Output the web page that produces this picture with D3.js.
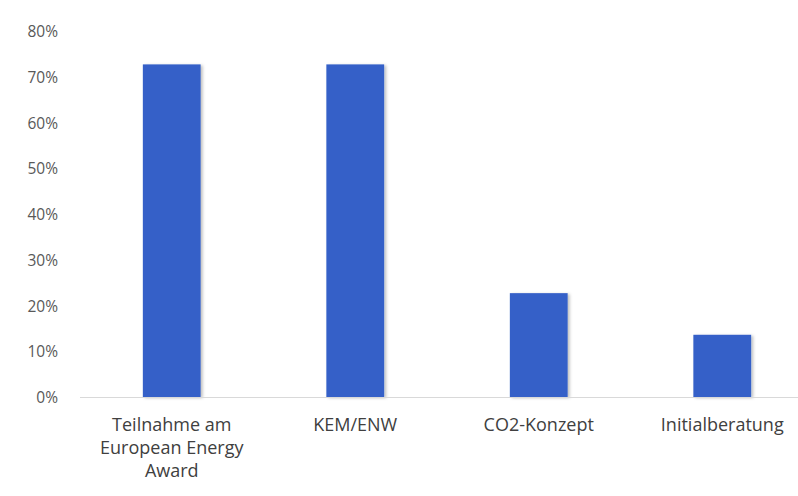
<!DOCTYPE html>
<html>
<head>
<meta charset="utf-8">
<script src="https://cdn.jsdelivr.net/npm/d3@7"></script>
<style>
  html, body { margin: 0; padding: 0; background: #fff; }
  svg { display: block; }
  text { font-family: "Open Sans", "Noto Sans", sans-serif; }
</style>
</head>
<body>
<svg id="chart" width="798" height="496"></svg>
<script>
// Measures taken by municipalities (share of respondents)
const categories = ["Teilnahme am European Energy Award", "KEM/ENW", "CO2-Konzept", "Initialberatung"];
const labelLines = [["Teilnahme am", "European Energy", "Award"], ["KEM/ENW"], ["CO2-Konzept"], ["Initialberatung"]];
const shares = [0.727, 0.727, 0.227, 0.136];
const yTicks = [0, 0.1, 0.2, 0.3, 0.4, 0.5, 0.6, 0.7, 0.8];

const svg = d3.select("#chart");
const W = 798, H = 496;
const plot = { left: 80, right: 814, top: 31, bottom: 397 };

const x = d3.scaleBand()
  .domain(categories)
  .range([plot.left, plot.right])
  .paddingInner(0.685)
  .paddingOuter(0.3425);

const y = d3.scaleLinear()
  .domain([0, 0.8])
  .range([plot.bottom, plot.top]);

// soft shadow on the bars
const defs = svg.append("defs");
const f = defs.append("filter").attr("id", "shadow")
  .attr("x", "-20%").attr("y", "-10%").attr("width", "150%").attr("height", "130%");
f.append("feDropShadow").attr("dx", 2).attr("dy", 1).attr("stdDeviation", 1.5)
  .attr("flood-color", "#000").attr("flood-opacity", 0.25);

// y axis labels (no line, no ticks)
const yAxis = d3.axisLeft(y).tickValues(yTicks).tickFormat(d3.format(".0%")).tickSize(0).tickPadding(0);
const gy = svg.append("g").attr("transform", "translate(58,0)").call(yAxis);
gy.select(".domain").remove();
gy.selectAll("text").attr("fill", "#595959").style("font-size", "15.5px").attr("dy", "0.36em");

// bars
svg.append("g").selectAll("rect")
  .data(categories)
  .join("rect")
  .attr("x", d => x(d))
  .attr("y", (d, i) => y(shares[i]))
  .attr("width", x.bandwidth())
  .attr("height", (d, i) => y(0) - y(shares[i]))
  .attr("fill", "#3561c8")
  .attr("filter", "url(#shadow)");

// baseline
svg.append("line")
  .attr("x1", plot.left).attr("x2", W)
  .attr("y1", plot.bottom + 0.5).attr("y2", plot.bottom + 0.5)
  .attr("stroke", "#d9d9d9").attr("stroke-width", 1);

// category labels
const gx = svg.append("g");
categories.forEach((c, i) => {
  const t = gx.append("text")
    .attr("x", x(c) + x.bandwidth() / 2)
    .attr("y", 431)
    .attr("text-anchor", "middle")
    .attr("fill", "#404040")
    .style("font-size", "18px");
  labelLines[i].forEach((line, j) => {
    t.append("tspan")
      .attr("x", x(c) + x.bandwidth() / 2)
      .attr("dy", j === 0 ? 0 : 23)
      .text(line);
  });
});
</script>
</body>
</html>
